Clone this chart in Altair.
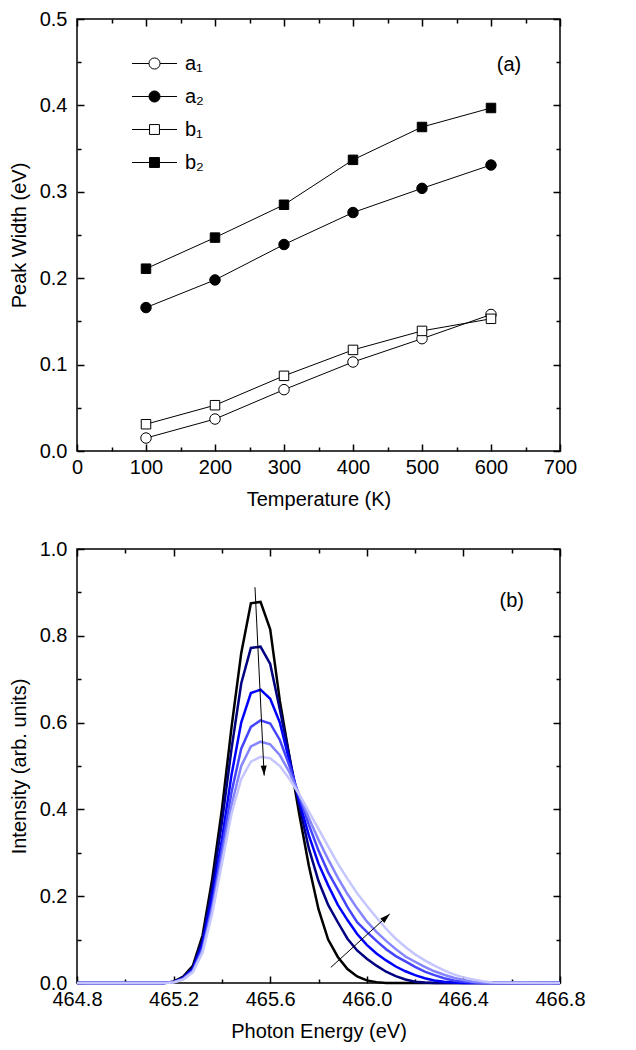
import json
import math
import altair as alt
import pandas as pd

FONT = "Liberation Sans"

# ---------------- panel (a) data ----------------
temperature = [100, 200, 300, 400, 500, 600]
a1 = [0.015, 0.037, 0.071, 0.103, 0.130, 0.158]
a2 = [0.166, 0.198, 0.239, 0.276, 0.304, 0.331]
b1 = [0.031, 0.053, 0.087, 0.117, 0.139, 0.153]
b2 = [0.211, 0.247, 0.285, 0.337, 0.375, 0.397]
series_a = ["a₁", "a₂", "b₁", "b₂"]
shapes_a = ["circle", "circle", "square", "square"]
fills_a = ["white", "black", "white", "black"]
sizes_a = [110, 110, 90, 90]

x_ticks_a = [0, 100, 200, 300, 400, 500, 600, 700]
x_minor_a = [50, 150, 250, 350, 450, 550, 650]
y_ticks_a = [0.0, 0.1, 0.2, 0.3, 0.4, 0.5]
y_minor_a = [0.05, 0.15, 0.25, 0.35, 0.45]
label_a = ["(a)"]
label_a_x = [626]
label_a_y = [0.447]

# ---------------- panel (b) data ----------------
energy = [464.80, 465.16, 465.20, 465.24, 465.28, 465.32, 465.36, 465.40, 465.44,
          465.48, 465.52, 465.56, 465.60, 465.64, 465.68, 465.72, 465.76, 465.80,
          465.84, 465.88, 465.92, 465.96, 466.00, 466.04, 466.08, 466.12, 466.16,
          466.20, 466.24, 466.28, 466.32, 466.36, 466.40, 466.44, 466.48, 466.52,
          466.80]
curve_1 = [0, 0, 0.003, 0.015, 0.040, 0.110, 0.240, 0.400, 0.590, 0.760, 0.875,
           0.878, 0.815, 0.650, 0.520, 0.390, 0.270, 0.170, 0.100, 0.060, 0.032,
           0.015, 0.006, 0.002, 0, 0, 0, 0, 0, 0, 0, 0, 0, 0, 0, 0, 0]
curve_2 = [0, 0, 0.003, 0.013, 0.036, 0.100, 0.220, 0.370, 0.540, 0.690, 0.772,
           0.775, 0.735, 0.630, 0.520, 0.410, 0.310, 0.235, 0.180, 0.140, 0.102,
           0.075, 0.056, 0.040, 0.026, 0.016, 0.008, 0.003, 0.001, 0, 0, 0, 0, 0,
           0, 0, 0]
curve_3 = [0, 0, 0.002, 0.011, 0.032, 0.090, 0.200, 0.330, 0.480, 0.600, 0.668,
           0.676, 0.655, 0.600, 0.510, 0.420, 0.340, 0.275, 0.225, 0.180, 0.145,
           0.113, 0.088, 0.068, 0.052, 0.038, 0.027, 0.018, 0.011, 0.006, 0.003,
           0.001, 0, 0, 0, 0, 0]
curve_4 = [0, 0, 0.002, 0.010, 0.029, 0.080, 0.180, 0.310, 0.440, 0.540, 0.590,
           0.605, 0.598, 0.560, 0.500, 0.430, 0.365, 0.305, 0.255, 0.215, 0.175,
           0.140, 0.118, 0.097, 0.078, 0.062, 0.050, 0.037, 0.026, 0.018, 0.011,
           0.006, 0.003, 0.001, 0, 0, 0]
curve_5 = [0, 0, 0.002, 0.009, 0.027, 0.075, 0.170, 0.290, 0.410, 0.500, 0.545,
           0.556, 0.550, 0.525, 0.485, 0.435, 0.380, 0.330, 0.285, 0.243, 0.205,
           0.172, 0.142, 0.118, 0.097, 0.078, 0.061, 0.049, 0.037, 0.027, 0.019,
           0.012, 0.007, 0.003, 0.001, 0, 0]
curve_6 = [0, 0, 0.001, 0.008, 0.025, 0.070, 0.160, 0.275, 0.390, 0.470, 0.510,
           0.521, 0.518, 0.500, 0.470, 0.435, 0.395, 0.355, 0.315, 0.275, 0.240,
           0.207, 0.178, 0.151, 0.125, 0.102, 0.083, 0.066, 0.052, 0.040, 0.029,
           0.020, 0.013, 0.008, 0.004, 0.001, 0]
curve_names = ["100 K", "200 K", "300 K", "400 K", "500 K", "600 K"]
curve_colors = ["#000000", "#000080", "#0000ff", "#4444ff", "#8585ff", "#c6c6ff"]

x_ticks_b = [464.8, 465.2, 465.6, 466.0, 466.4, 466.8]
x_minor_b = [465.0, 465.4, 465.8, 466.2, 466.6]
y_ticks_b = [0.0, 0.2, 0.4, 0.6, 0.8, 1.0]
y_minor_b = [0.1, 0.3, 0.5, 0.7, 0.9]

arrow_x = [465.537, 465.851]
arrow_y = [0.912, 0.036]
arrow_x2 = [465.575, 466.095]
arrow_y2 = [0.478, 0.159]
label_b = ["(b)"]
label_b_x = [466.6]
label_b_y = [0.88]

# ---------------- layout sizes ----------------
W = 483
H_A = 432
H_B = 434
MAJOR_PX = 7
MINOR_PX = 4

# ---------------- tables ----------------
rows = []
for name, vals in zip(series_a, [a1, a2, b1, b2]):
    for t, v in zip(temperature, vals):
        rows.append({"T": t, "width": v, "series": name})
df_a = pd.DataFrame(rows)

rows = []
for name, vals in zip(curve_names, [curve_1, curve_2, curve_3, curve_4, curve_5, curve_6]):
    for e, v in zip(energy, vals):
        rows.append({"E": e, "I": v, "curve": name})
df_b = pd.DataFrame(rows)

angles = []
for x1, y1, x2, y2 in zip(arrow_x, arrow_y, arrow_x2, arrow_y2):
    dx = (x2 - x1) * W / 2.0
    dy = (y2 - y1) * H_B / 1.0
    angles.append(math.degrees(math.atan2(dx, dy)) % 360)
df_arrow = pd.DataFrame({"x": arrow_x, "y": arrow_y, "x2": arrow_x2,
                         "y2": arrow_y2, "angle": angles})
df_la = pd.DataFrame({"x": label_a_x, "y": label_a_y, "t": label_a})
df_lb = pd.DataFrame({"x": label_b_x, "y": label_b_y, "t": label_b})


def main_axis(orient, major, minor, fmt, title, span, pad, tpad):
    """Labels on major values; the dashed grid leaves only short inward
    tick marks at both edges of the frame (long for major, short for minor)."""
    test = "indexof(%s, datum.value) >= 0" % json.dumps(major)
    return alt.Axis(
        orient=orient, values=sorted(major + minor), format=fmt,
        labelExpr="(%s) ? datum.label : ''" % test,
        ticks=False, tickSize=0, domain=False,
        grid=True, gridColor="black", gridWidth=1.5, gridOpacity=1,
        gridDash={"condition": {"test": test,
                                "value": [MAJOR_PX, span - 2 * MAJOR_PX]},
                  "value": [MINOR_PX, span - 2 * MINOR_PX]},
        labelPadding=pad, labelFlush=False, labelOverlap=False,
        title=title, titlePadding=tpad,
    )


# ---------------- panel (a) ----------------
sx_a = alt.Scale(domain=[0, 700], nice=False, zero=False)
sy_a = alt.Scale(domain=[0, 0.5], nice=False, zero=False)

lines_a = alt.Chart(df_a).mark_line(color="black", strokeWidth=1).encode(
    x=alt.X("T:Q", scale=sx_a,
            axis=main_axis("bottom", x_ticks_a, x_minor_a, "d", "Temperature (K)", H_A, 6, 12)),
    y=alt.Y("width:Q", scale=sy_a,
            axis=main_axis("left", y_ticks_a, y_minor_a, ".1f", "Peak Width (eV)", W, 10, 10)),
    detail="series:N",
)

marker_layers = []
for name, shp, fil, sz in zip(series_a, shapes_a, fills_a, sizes_a):
    marker_layers.append(
        alt.Chart(df_a[df_a["series"] == name]).mark_point(
            shape=shp, filled=False, color="black", fill=fil,
            strokeWidth=1, size=sz, opacity=1
        ).encode(
            x=alt.X("T:Q", scale=sx_a, axis=None),
            y=alt.Y("width:Q", scale=sy_a, axis=None),
        )
    )

text_a = alt.Chart(df_la).mark_text(font=FONT, fontSize=20, color="black").encode(
    x=alt.X("x:Q", scale=sx_a, axis=None),
    y=alt.Y("y:Q", scale=sy_a, axis=None),
    text="t:N",
)

circ = ("M-1.5,0L-0.37,0M0.37,0L1.5,0M-0.37,0A0.37,0.37,0,1,0,0.37,0"
        "A0.37,0.37,0,1,0,-0.37,0Z")
sq = "M-1.5,0L-0.33,0M0.33,0L1.5,0M-0.33,-0.33L0.33,-0.33L0.33,0.33L-0.33,0.33Z"
legend_paths = [circ, circ, sq, sq]
leg = alt.Legend(orient="none", legendX=62, legendY=29, title=None,
                 symbolSize=900, symbolStrokeWidth=1,
                 labelFont=FONT, labelFontSize=20, labelColor="black",
                 labelOffset=15, rowPadding=7, padding=0)

legend_a = alt.Chart(df_a).transform_filter("datum.T < 0").mark_point(
    filled=False, strokeWidth=1, opacity=1
).encode(
    x=alt.X("T:Q", scale=sx_a, axis=None),
    y=alt.Y("width:Q", scale=sy_a, axis=None),
    shape=alt.Shape("series:N", scale=alt.Scale(domain=series_a, range=legend_paths), legend=leg),
    fill=alt.Fill("series:N", scale=alt.Scale(domain=series_a, range=fills_a), legend=leg),
    stroke=alt.Stroke("series:N", scale=alt.Scale(domain=series_a, range=["black"] * 4), legend=leg),
)

top = alt.layer(lines_a, *marker_layers, text_a, legend_a).resolve_axis(
    x="independent", y="independent"
).properties(width=W, height=H_A)

# ---------------- panel (b) ----------------
sx_b = alt.Scale(domain=[464.8, 466.8], nice=False, zero=False)
sy_b = alt.Scale(domain=[0, 1.0], nice=False, zero=False)

lines_b = alt.Chart(df_b).mark_line(strokeWidth=2.5).encode(
    x=alt.X("E:Q", scale=sx_b,
            axis=main_axis("bottom", x_ticks_b, x_minor_b, ".1f", "Photon Energy (eV)", H_B, 6, 12)),
    y=alt.Y("I:Q", scale=sy_b,
            axis=main_axis("left", y_ticks_b, y_minor_b, ".1f", "Intensity (arb. units)", W, 10, 10)),
    color=alt.Color("curve:N", scale=alt.Scale(domain=curve_names, range=curve_colors), legend=None),
)

arrows_b = alt.Chart(df_arrow).mark_rule(color="black", strokeWidth=1).encode(
    x=alt.X("x:Q", scale=sx_b, axis=None),
    y=alt.Y("y:Q", scale=sy_b, axis=None),
    x2="x2:Q", y2="y2:Q",
)

head = "M0,0L-0.3,1L0.3,1Z"
heads_b = alt.Chart(df_arrow).mark_point(
    shape=head, filled=True, color="black", size=400, opacity=1
).encode(
    x=alt.X("x2:Q", scale=sx_b, axis=None),
    y=alt.Y("y2:Q", scale=sy_b, axis=None),
    angle=alt.Angle("angle:Q", scale=None),
)

text_b = alt.Chart(df_lb).mark_text(font=FONT, fontSize=20, color="black").encode(
    x=alt.X("x:Q", scale=sx_b, axis=None),
    y=alt.Y("y:Q", scale=sy_b, axis=None),
    text="t:N",
)

bottom = alt.layer(lines_b, arrows_b, heads_b, text_b).resolve_axis(
    x="independent", y="independent"
).properties(width=W, height=H_B)

chart = alt.vconcat(top, bottom, spacing=98, bounds="flush").properties(
    padding={"left": 0, "top": 0, "right": 5, "bottom": 0}
).configure_view(
    stroke="black", strokeWidth=1.5
).configure_axis(
    labelFont=FONT, titleFont=FONT, labelFontSize=20, titleFontSize=20,
    labelColor="black", titleColor="black", titleFontWeight="normal",
)

chart.save("out.html", embed_options={"renderer": "svg", "actions": False})
